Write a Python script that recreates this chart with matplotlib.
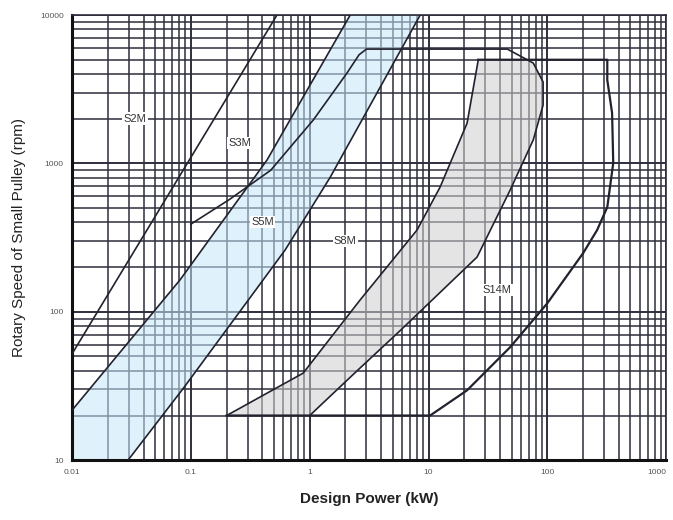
import matplotlib
matplotlib.use('Agg')
import matplotlib.pyplot as plt
from matplotlib.ticker import FixedLocator, LogLocator, NullFormatter, FixedFormatter

plt.rcParams['font.family'] = ['Liberation Sans', 'DejaVu Sans']

# values: design power (kW) vs rotary speed (rpm)
s2m_kw = [0.01, 0.53]
s2m_rpm = [52, 10000]

s3m_kw = [0.01, 0.081, 0.437, 2.19]          # upper-left edge of blue band
s3m_rpm = [21.7, 164, 1054, 10000]

s5m_kw = [0.0296, 0.0877, 0.621, 1.49, 8.5]  # lower-right edge of blue band
s5m_rpm = [10, 31, 261, 809, 10000]

s8m_kw = [0.1, 0.21, 0.47, 1.07, 2.06, 2.6, 3.0, 46, 76, 92, 92, 76, 48.6, 25.6, 5.8, 2.5, 1.0]
s8m_rpm = [390, 570, 900, 1960, 4070, 5400, 5900, 5900, 4750, 3540, 2475, 1440, 662, 234, 75, 40, 20]

s14m_left_kw = [0.2, 0.88, 2.65, 8.0, 12.5, 21.1, 26.2]
s14m_left_rpm = [20, 38.6, 120, 356, 693, 1870, 5000]
s14m_right_kw = [26.2, 319, 319, 350, 358, 319, 262, 200, 99.6, 48.6, 21.1, 10.3, 0.2]
s14m_right_rpm = [5000, 5000, 3650, 2190, 1007, 508, 356, 249, 114, 57.8, 29.6, 20, 20]
gray_top_kw = 70

labels = ['S2M', 'S3M', 'S5M', 'S8M', 'S14M']
label_kw = [0.034, 0.26, 0.40, 1.99, 37.8]
label_rpm = [2000, 1374, 403, 300, 140]

x_ticks = [0.01, 0.1, 1, 10, 100, 1000]
x_tick_labels = ['0.01', '0.1', '1', '10', '100', '1000']
y_ticks = [10, 100, 1000, 10000]
y_tick_labels = ['10', '100', '1000', '10000']

line_c = '#22222e'
grid_c = '#2e2e3c'

fig = plt.figure(figsize=(6.73, 5.2), dpi=100)
ax = fig.add_axes([0.107, 0.115, 0.883, 0.856])
ax.set_xscale('log')
ax.set_yscale('log')
ax.set_xlim(0.01, 1000)
ax.set_ylim(10, 10000)

ax.xaxis.set_major_locator(FixedLocator(x_ticks))
ax.xaxis.set_major_formatter(FixedFormatter(x_tick_labels))
ax.yaxis.set_major_locator(FixedLocator(y_ticks))
ax.yaxis.set_major_formatter(FixedFormatter(y_tick_labels))
ax.xaxis.set_minor_locator(LogLocator(base=10, subs=range(2, 10)))
ax.yaxis.set_minor_locator(LogLocator(base=10, subs=range(2, 10)))
ax.xaxis.set_minor_formatter(NullFormatter())
ax.yaxis.set_minor_formatter(NullFormatter())
ax.grid(which='major', color=grid_c, lw=1.4)
ax.grid(which='minor', color=grid_c, lw=1.1)
ax.set_axisbelow(True)
ax.tick_params(which='both', length=0, labelsize=6, colors='#555555', pad=6)
# keep last x label inside the figure
ax.get_xticklabels()[-1].set_horizontalalignment('right')

for s in ['top', 'right']:
    ax.spines[s].set_color(grid_c)
    ax.spines[s].set_linewidth(1.2)
for s in ['left', 'bottom']:
    ax.spines[s].set_color('#111111')
    ax.spines[s].set_linewidth(2.2)

# blue band (between the two lines)
blue_x = [0.01] + s3m_kw + s5m_kw[::-1]
blue_y = [10] + s3m_rpm + s5m_rpm[::-1]
ax.fill(blue_x, blue_y, color='#c6e6f8', alpha=0.55, lw=0, zorder=2)

# gray overlap region
gray_x = s14m_left_kw + [gray_top_kw] + s8m_kw[8:]
gray_y = s14m_left_rpm + [5000] + s8m_rpm[8:]
ax.fill(gray_x, gray_y, color='#cfcfcf', alpha=0.55, lw=0, zorder=2)

ax.plot(s2m_kw, s2m_rpm, color=line_c, lw=1.2, zorder=3)
ax.plot(s3m_kw, s3m_rpm, color=line_c, lw=1.2, zorder=3)
ax.plot(s5m_kw, s5m_rpm, color=line_c, lw=1.2, zorder=3)
ax.plot(s8m_kw, s8m_rpm, color=line_c, lw=1.2, zorder=3)
ax.plot(s14m_left_kw, s14m_left_rpm, color=line_c, lw=1.2, zorder=3)
ax.plot(s14m_right_kw, s14m_right_rpm, color=line_c, lw=1.6, zorder=3)

for t, x, y in zip(labels, label_kw, label_rpm):
    ax.text(x, y, t, fontsize=8, color='#333333', ha='center', va='center', zorder=5,
            bbox=dict(facecolor='white', edgecolor='none', pad=1.0))

ax.set_xlabel('Design Power (kW)', fontsize=11, fontweight='bold', color='#222222', labelpad=12)
ax.set_ylabel('Rotary Speed of Small Pulley (rpm)', fontsize=11, color='#222222', labelpad=10)

fig.savefig('out.png', dpi=100)
